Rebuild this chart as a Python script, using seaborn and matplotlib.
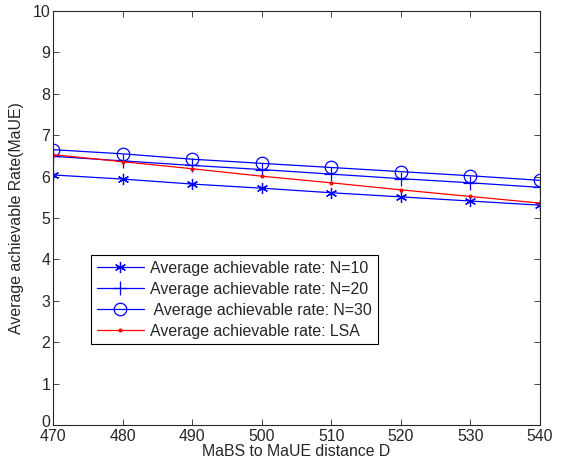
import matplotlib
matplotlib.use("Agg")
import matplotlib.pyplot as plt
import matplotlib.transforms as mtransforms
import seaborn as sns
import pandas as pd
import numpy as np

distance = [470, 480, 490, 500, 510, 520, 530, 540]
rate_n10 = [6.04, 5.94, 5.82, 5.72, 5.61, 5.51, 5.41, 5.31]
rate_n20 = [6.49, 6.38, 6.27, 6.17, 6.06, 5.95, 5.85, 5.74]
rate_n30 = [6.65, 6.55, 6.42, 6.32, 6.22, 6.12, 6.02, 5.91]
rate_lsa = [6.53, 6.36, 6.19, 6.01, 5.85, 5.68, 5.52, 5.36]

labels = ['Average achievable rate: N=10', 'Average achievable rate: N=20',
          ' Average achievable rate: N=30', 'Average achievable rate: LSA']

df = pd.DataFrame({'D': distance * 4,
                   'rate': rate_n10 + rate_n20 + rate_n30 + rate_lsa,
                   'series': np.repeat(labels, len(distance))})

sns.set_style("ticks")
plt.rcParams['font.family'] = ['Liberation Sans', 'DejaVu Sans']
plt.rcParams['xtick.direction'] = 'in'
plt.rcParams['ytick.direction'] = 'in'

fs = 11.4

fig = plt.figure(figsize=(5.77, 4.70), dpi=100)
ax = fig.add_axes([53 / 577, 45 / 470, 487 / 577, 414 / 470])

# matlab-like markers
styles = {labels[0]: dict(color='blue', marker=(6, 2, 0), ms=8),
          labels[1]: dict(color='blue', marker='+', ms=10),
          labels[2]: dict(color='blue', marker='o', ms=9, mfc='none'),
          labels[3]: dict(color='red', marker='.', ms=4)}

for lab in labels:
    sub = df[df['series'] == lab]
    st = styles[lab]
    sns.lineplot(data=sub, x='D', y='rate', ax=ax, label=lab, lw=0.9,
                 color=st['color'], marker=st['marker'], markersize=st['ms'],
                 markerfacecolor=st.get('mfc', st['color']),
                 markeredgecolor=st['color'], markeredgewidth=0.9)

ax.set_xlim(470, 540)
ax.set_ylim(0, 10)
ax.set_xticks(distance)
ax.set_yticks(range(0, 11))
ax.tick_params(top=True, right=True, labelsize=fs, length=4, width=0.6, pad=2)
ax.tick_params(axis='x', pad=3)
for s in ax.spines.values():
    s.set_linewidth(0.8)
ax.set_xlabel('MaBS to MaUE distance D', fontsize=fs, labelpad=0)
ax.set_ylabel('Average achievable Rate(MaUE)', fontsize=fs, labelpad=6)

# lift the "0" a little so it clears "470", as in the original
fig.canvas.draw()
lab0 = ax.get_yticklabels()[0]
lab0.set_transform(mtransforms.offset_copy(lab0.get_transform(), fig=fig, x=0, y=3, units='points'))

leg = ax.legend(loc='lower left', bbox_to_anchor=(0.078, 0.195), fontsize=fs,
                frameon=True, fancybox=False, edgecolor='black', framealpha=1,
                handlelength=3.0, handletextpad=0.4, borderpad=0.35,
                labelspacing=0.38, borderaxespad=0)
leg.get_frame().set_linewidth(0.8)

fig.savefig('out.png', dpi=100)
